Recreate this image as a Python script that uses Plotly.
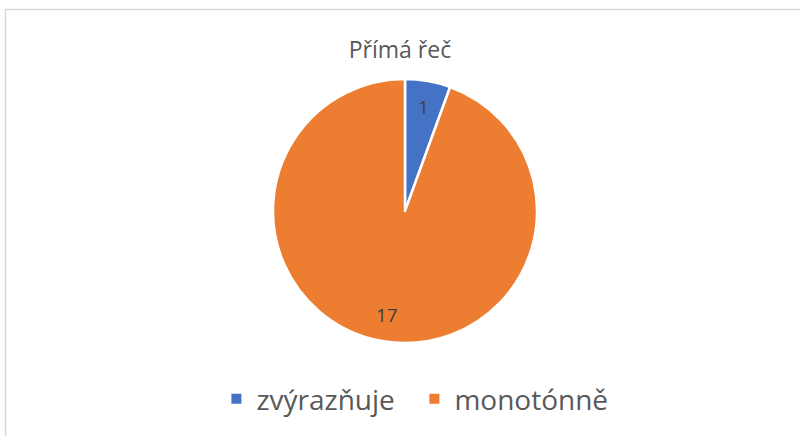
import math
import plotly.graph_objects as go

title_text = "Přímá řeč"
categories = ["zvýrazňuje", "monotónně"]
values = [1, 17]
colors = ["#4472C4", "#ED7D31"]

FONT = "Open Sans, Liberation Sans, sans-serif"

fig = go.Figure()
fig.add_trace(go.Pie(
    labels=categories,
    values=values,
    sort=False,
    direction="clockwise",
    rotation=0,
    marker=dict(colors=colors, line=dict(color="white", width=2.5)),
    textinfo="none",
    hoverinfo="label+value",
    domain=dict(x=[273 / 800, 537 / 800], y=[1 - 343 / 436, 1 - 79 / 436]),
))

# data labels placed along mid-angle of each slice
total = sum(values)
cx, cy = 405, 211
r = 132
cum = 0
annotations = []
for v in values:
    mid = (cum + v / 2) / total * 2 * math.pi
    cum += v
    px = cx + 0.8 * r * math.sin(mid)
    py = cy - 0.8 * r * math.cos(mid)
    annotations.append(dict(
        x=px / 800, y=1 - py / 436, xref="paper", yref="paper",
        xanchor="center", yanchor="middle",
        text=str(v), showarrow=False,
        font=dict(family=FONT, size=19, color="#404040"),
    ))

fig.update_layout(
    width=800, height=436,
    margin=dict(l=0, r=0, t=0, b=0),
    paper_bgcolor="white",
    plot_bgcolor="white",
    title=dict(text=title_text, x=0.5, xanchor="center", y=1 - 50 / 436, yanchor="middle",
               font=dict(family=FONT, size=23, color="#595959")),
    legend=dict(orientation="h", x=0.518, xanchor="center", y=1 - 399 / 436, yanchor="middle",
                font=dict(family=FONT, size=28, color="#595959"),
                entrywidth=153, entrywidthmode="pixels",
                itemsizing="constant"),
    annotations=annotations,
    shapes=[
        dict(type="line", xref="paper", yref="paper", x0=5 / 800, x1=1, y0=1 - 9.5 / 436, y1=1 - 9.5 / 436,
             line=dict(color="#D9D9D9", width=1.5)),
        dict(type="line", xref="paper", yref="paper", x0=5.5 / 800, x1=5.5 / 800, y0=0, y1=1 - 9 / 436,
             line=dict(color="#D9D9D9", width=1.5)),
    ],
)

fig.write_html("out.html", config={"displayModeBar": False},
               post_script="document.body.style.margin='0';document.body.style.overflow='hidden';")
